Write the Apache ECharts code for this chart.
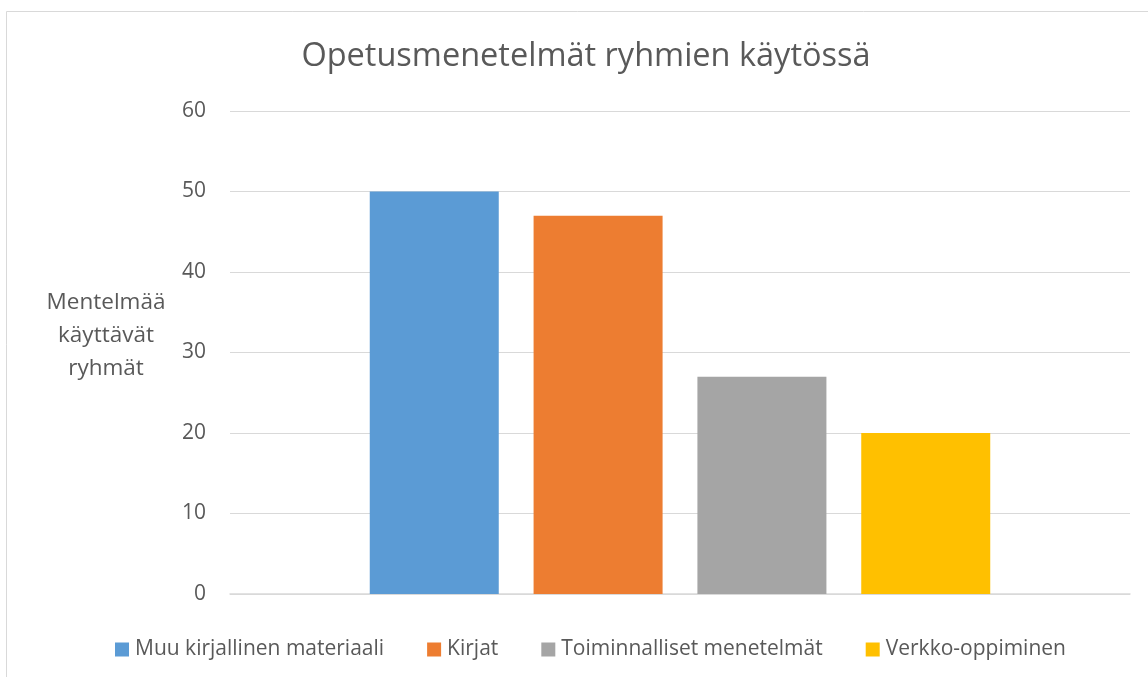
<!DOCTYPE html>
<html>
<head>
<meta charset="utf-8">
<script src="https://cdn.jsdelivr.net/npm/echarts@6/dist/echarts.min.js"></script>
<style>
  html, body { margin: 0; padding: 0; background: #fff; }
  #main { width: 1148px; height: 677px; }
</style>
</head>
<body>
<div id="main"></div>
<script>
// sarjat ja arvot
const seriesNames = ['Muu kirjallinen materiaali', 'Kirjat', 'Toiminnalliset menetelmät', 'Verkko-oppiminen'];
const seriesValues = [50, 47, 27, 20];
const seriesColors = ['#5b9bd5', '#ed7d31', '#a5a5a5', '#ffc000'];
const categories = [''];
const yTicks = { min: 0, max: 60, interval: 10 };

const FONT = '"Open Sans", Lato, sans-serif';
const chart = echarts.init(document.getElementById('main'));

const option = {
  backgroundColor: '#fff',
  animation: false,
  textStyle: { fontFamily: FONT },
  title: {
    text: 'Opetusmenetelmät ryhmien käytössä',
    left: 581,
    top: 35,
    textAlign: 'center',
    textStyle: { fontSize: 32.5, fontWeight: 'normal', color: '#595959', fontFamily: FONT }
  },
  graphic: [
    {
      type: 'rect',
      shape: { x: 6.5, y: 11.5, width: 1160, height: 700 },
      style: { fill: 'none', stroke: '#d9d9d9', lineWidth: 1 },
      silent: true
    },
    {
      type: 'text',
      x: 106,
      y: 286,
      style: {
        text: 'Mentelmää\nkäyttävät\nryhmät',
        textAlign: 'center',
        fontSize: 22.5,
        lineHeight: 33,
        fill: '#595959',
        fontFamily: FONT
      }
    }
  ],
  legend: {
    data: seriesNames,
    left: 110,
    top: 634,
    itemWidth: 14,
    itemHeight: 14,
    itemGap: 43,
    icon: 'rect',
    textStyle: { fontSize: 21, color: '#595959', fontFamily: FONT, padding: [0, 0, 0, 1] }
  },
  grid: { left: 230, right: 18, top: 111, bottom: 83, containLabel: false },
  xAxis: {
    type: 'category',
    data: categories,
    axisLine: { lineStyle: { color: '#d9d9d9', width: 1.5 } },
    axisTick: { show: false },
    axisLabel: { show: false }
  },
  yAxis: {
    type: 'value',
    min: yTicks.min,
    max: yTicks.max,
    interval: yTicks.interval,
    axisLine: { show: false },
    axisTick: { show: false },
    axisLabel: { fontSize: 21, color: '#595959', margin: 24, fontFamily: FONT },
    splitLine: { lineStyle: { color: '#d9d9d9', width: 1 } }
  },
  series: seriesNames.map((name, i) => ({
    name: name,
    type: 'bar',
    data: [seriesValues[i]],
    barWidth: 129,
    barGap: '27%',
    itemStyle: { color: seriesColors[i] }
  }))
};

chart.setOption(option);
</script>
</body>
</html>
